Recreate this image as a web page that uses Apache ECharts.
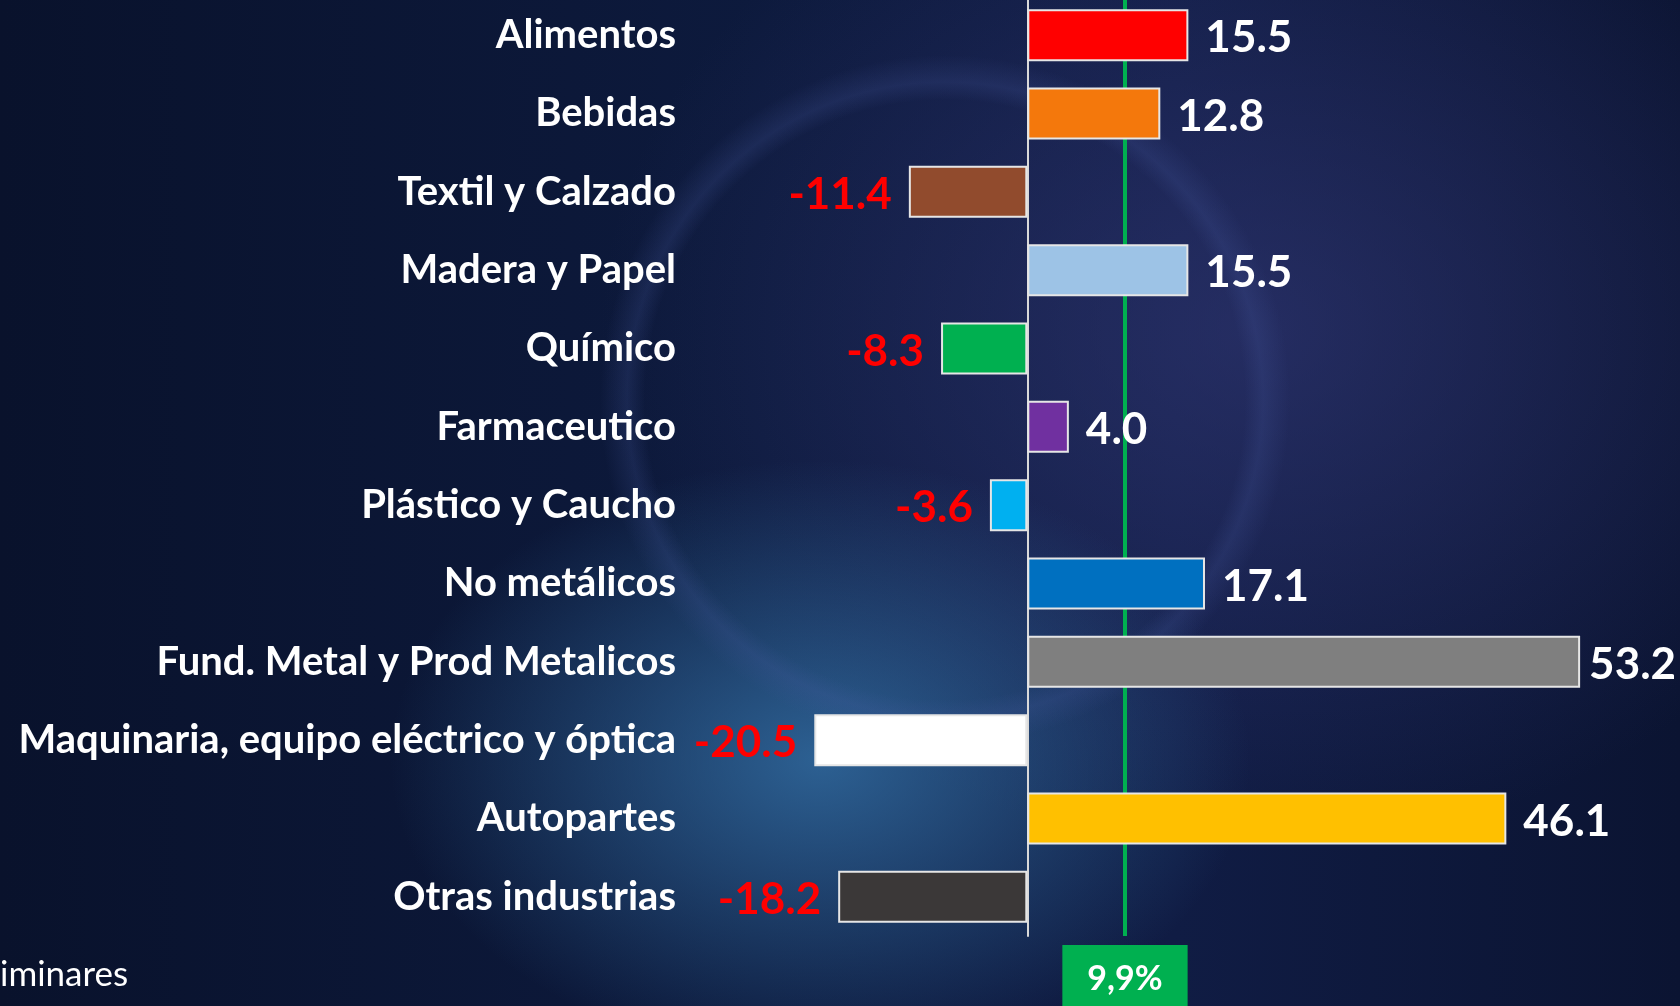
<!DOCTYPE html>
<html>
<head>
<meta charset="utf-8">
<script src="https://cdn.jsdelivr.net/npm/echarts@6/dist/echarts.min.js"></script>
<style>
  html, body { margin: 0; padding: 0; width: 1680px; height: 1006px; overflow: hidden; }
  body {
    background:
      radial-gradient(circle at 945px 400px, rgba(0,0,0,0) 300px, rgba(70,90,160,0.22) 318px, rgba(0,0,0,0) 345px),
      radial-gradient(ellipse 430px 300px at 820px 760px, rgba(55,120,175,0.75), rgba(30,70,120,0) 100%),
      radial-gradient(ellipse 650px 520px at 1250px 330px, rgba(55,60,125,0.55), rgba(0,0,0,0) 100%),
      linear-gradient(90deg, #09122c 0%, #0d1a3d 45%, #101c44 70%, #0b1432 100%);
  }
  #chart { width: 1680px; height: 1006px; }
</style>
</head>
<body>
<div id="chart"></div>
<script>
// sectores industriales, variación %
const categories = [
  'Alimentos', 'Bebidas', 'Textil y Calzado', 'Madera y Papel', 'Químico',
  'Farmaceutico', 'Plástico y Caucho', 'No metálicos', 'Fund. Metal y Prod Metalicos',
  'Maquinaria, equipo eléctrico y óptica', 'Autopartes', 'Otras industrias'
];
const values = [15.5, 12.8, -11.4, 15.5, -8.3, 4.0, -3.6, 17.1, 53.2, -20.5, 46.1, -18.2];
const barColors = [
  '#ff0000', '#f4780c', '#914b2d', '#9dc3e6', '#00b050', '#7030a0',
  '#00b0f0', '#0070c0', '#7f7f7f', '#ffffff', '#ffc000', '#3b3838'
];
// línea del total
const totalLineAt = 9.4;
const totalLabel = '9,9%';
const footnote = 'iminares';

const chart = echarts.init(document.getElementById('chart'));

const maxValue = Math.max(...values);
const barData = values.map((v, i) => ({
  value: v,
  itemStyle: { color: barColors[i] },
  label: {
    position: v < 0 ? 'left' : 'right',
    color: v < 0 ? '#ff0000' : '#ffffff',
    // la etiqueta más larga va pegada a la barra para que quepa
    distance: v === maxValue ? 9 : 17
  }
}));

chart.setOption({
  backgroundColor: 'transparent',
  animation: false,
  title: {
    text: footnote,
    left: 0,
    top: 957,
    padding: 0,
    textStyle: { color: '#ffffff', fontFamily: 'Lato', fontWeight: 'normal', fontSize: 35 }
  },
  grid: { left: 674, right: 50, top: -4, bottom: 70, outerBoundsMode: 'none', containLabel: false },
  xAxis: {
    type: 'value',
    min: -34,
    max: 58,
    show: false
  },
  yAxis: {
    type: 'category',
    inverse: true,
    data: categories,
    axisTick: { show: false },
    axisLine: { show: true, onZero: true, lineStyle: { color: '#d9d9d9', width: 2 } },
    axisLabel: {
      color: '#ffffff',
      fontFamily: 'Lato',
      fontWeight: 'bold',
      fontSize: 40,
      margin: -2
    }
  },
  series: [
    {
      type: 'line',
      data: [],
      z: 1,
      markLine: {
        z: 1,
        silent: true,
        symbol: 'none',
        lineStyle: { color: '#00b050', width: 4, type: 'solid' },
        label: {
          show: true,
          position: 'end',
          distance: 9,
          formatter: totalLabel,
          color: '#ffffff',
          fontFamily: 'Lato',
          fontWeight: 'bold',
          fontSize: 34,
          backgroundColor: '#00b050',
          padding: [17, 25, 20, 25]
        },
        data: [{ xAxis: totalLineAt }]
      }
    },
    {
      type: 'bar',
      z: 3,
      barWidth: 52,
      data: barData,
      itemStyle: { borderColor: '#e6e6e6', borderWidth: 2 },
      label: {
        show: true,
        offset: [0, 3],
        fontFamily: 'Lato',
        fontWeight: 'bold',
        fontSize: 44,
        formatter: p => p.value.toFixed(1)
      }
    }
  ]
});
</script>
</body>
</html>
